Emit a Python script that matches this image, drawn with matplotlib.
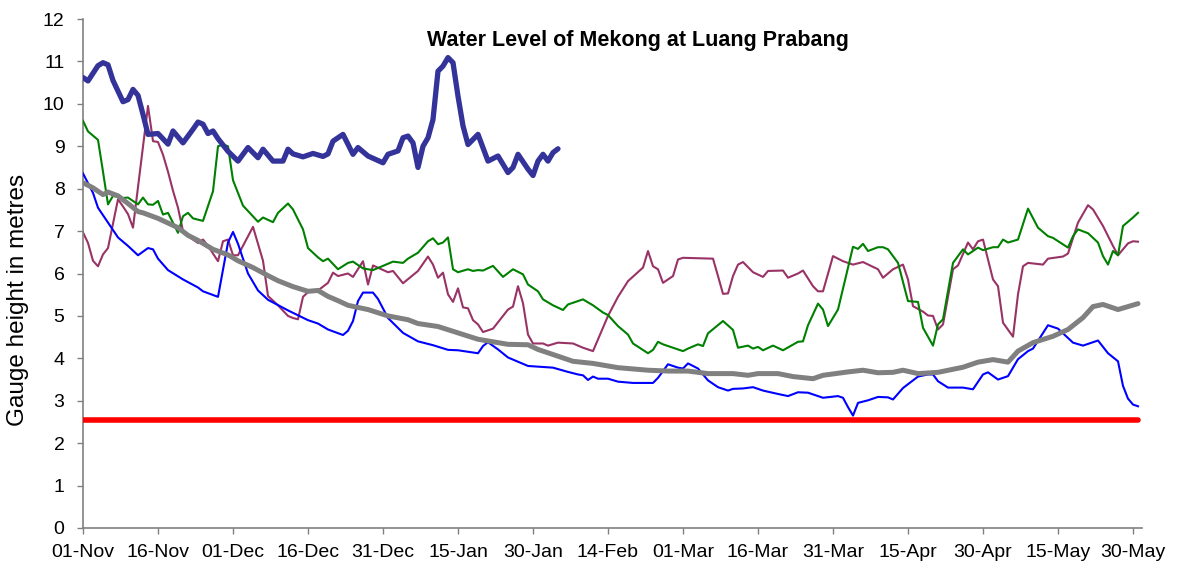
import matplotlib
matplotlib.use("Agg")
import matplotlib.pyplot as plt

plt.rcParams['font.family'] = ['Liberation Sans', 'DejaVu Sans']

# ---- data: days after 01-Nov, gauge height (m) ----
tick_labels = ['01-Nov', '16-Nov', '01-Dec', '16-Dec', '31-Dec', '15-Jan', '30-Jan',
               '14-Feb', '01-Mar', '16-Mar', '31-Mar', '15-Apr', '30-Apr', '15-May', '30-May']
tick_days = [0, 15, 30, 45, 60, 75, 90, 105, 120, 135, 150, 165, 180, 195, 210]

current_days = [0, 1, 3, 4, 5, 6, 8, 9, 10, 11, 12, 13, 15, 17, 18, 20, 22, 23, 24, 25, 26, 27,
                29, 31, 33, 35, 36, 38, 40, 41, 42, 44, 46, 48, 49, 50, 52, 54, 55, 57, 60, 61,
                63, 64, 65, 66, 67, 68, 69, 70, 71, 72, 73, 74, 75, 76, 77, 79, 81, 83, 85, 86,
                87, 89, 90, 91, 92, 93, 94, 95]
current_vals = [10.62, 10.54, 10.90, 10.97, 10.92, 10.55, 10.05, 10.10, 10.34, 10.20, 9.75, 9.28,
                9.30, 9.05, 9.36, 9.08, 9.40, 9.57, 9.52, 9.30, 9.36, 9.18, 8.88, 8.65, 8.97,
                8.73, 8.93, 8.65, 8.65, 8.93, 8.82, 8.75, 8.83, 8.76, 8.82, 9.12, 9.28, 8.81,
                8.97, 8.77, 8.61, 8.81, 8.89, 9.20, 9.24, 9.08, 8.50, 9.00, 9.20, 9.63, 10.77,
                10.89, 11.09, 10.97, 10.18, 9.48, 9.04, 9.28, 8.65, 8.77, 8.38, 8.50, 8.81,
                8.46, 8.31, 8.65, 8.81, 8.65, 8.85, 8.94]

average_days = [0, 2, 4, 5, 7, 9, 11, 12, 15, 17, 19, 21, 23, 26, 29, 31, 34, 37, 39, 42, 45, 47,
                49, 51, 53, 57, 61, 65, 67, 71, 75, 79, 83, 85, 89, 91, 94, 98, 102, 107, 113,
                117, 121, 125, 130, 133, 135, 139, 142, 146, 148, 153, 156, 159, 162, 164, 167,
                171, 176, 179, 182, 185, 187, 190, 194, 197, 200, 202, 204, 207, 211]
average_vals = [8.14, 8.02, 7.86, 7.92, 7.83, 7.65, 7.46, 7.43, 7.30, 7.19, 7.08, 6.90, 6.78,
                6.57, 6.44, 6.30, 6.14, 5.95, 5.83, 5.69, 5.58, 5.60, 5.46, 5.36, 5.25, 5.15,
                5.00, 4.91, 4.82, 4.75, 4.60, 4.45, 4.37, 4.33, 4.32, 4.21, 4.09, 3.93, 3.88,
                3.78, 3.72, 3.70, 3.70, 3.64, 3.64, 3.60, 3.64, 3.64, 3.57, 3.52, 3.60, 3.68,
                3.72, 3.66, 3.67, 3.72, 3.64, 3.67, 3.79, 3.91, 3.97, 3.91, 4.17, 4.37, 4.52,
                4.68, 4.96, 5.22, 5.27, 5.15, 5.29]

blue_days = [0, 2, 3, 5, 7, 9, 11, 13, 14, 15, 17, 20, 23, 24, 27, 29, 30, 31, 33, 35, 37, 41,
             45, 47, 49, 52, 53, 54, 55, 56, 58, 59, 61, 64, 67, 70, 73, 75, 79, 80, 81, 83, 85,
             87, 89, 94, 97, 99, 100, 101, 102, 103, 105, 107, 110, 114, 115, 117, 119, 120,
             121, 123, 125, 127, 129, 130, 132, 134, 136, 139, 141, 143, 145, 148, 151, 152,
             153, 154, 155, 157, 159, 161, 162, 164, 167, 169, 170, 171, 173, 176, 178, 180,
             181, 183, 185, 187, 189, 190, 193, 195, 198, 200, 203, 205, 207, 208, 209, 210, 211]
blue_vals = [8.36, 7.90, 7.55, 7.20, 6.85, 6.65, 6.43, 6.60, 6.57, 6.35, 6.08, 5.86, 5.67, 5.58,
             5.45, 6.73, 6.98, 6.70, 6.00, 5.60, 5.38, 5.13, 4.90, 4.82, 4.68, 4.55, 4.65, 4.88,
             5.35, 5.55, 5.55, 5.40, 4.95, 4.60, 4.40, 4.31, 4.20, 4.19, 4.12, 4.29, 4.38, 4.21,
             4.02, 3.92, 3.82, 3.78, 3.68, 3.62, 3.60, 3.49, 3.57, 3.52, 3.52, 3.45, 3.42, 3.42,
             3.54, 3.86, 3.78, 3.76, 3.88, 3.76, 3.48, 3.32, 3.24, 3.28, 3.29, 3.32, 3.24, 3.16,
             3.11, 3.20, 3.19, 3.07, 3.11, 3.07, 2.85, 2.65, 2.95, 3.01, 3.09, 3.08, 3.03, 3.30,
             3.57, 3.62, 3.62, 3.46, 3.31, 3.31, 3.27, 3.62, 3.67, 3.50, 3.58, 3.98, 4.17, 4.23,
             4.78, 4.70, 4.37, 4.30, 4.42, 4.12, 3.93, 3.35, 3.05, 2.91, 2.87]

green_days = [0, 1, 3, 4, 5, 6, 8, 9, 11, 12, 13, 14, 15, 16, 17, 19, 20, 21, 22, 24, 26, 27, 28,
              29, 30, 32, 35, 36, 38, 39, 41, 42, 44, 45, 47, 48, 49, 51, 53, 54, 56, 58, 62, 64,
              65, 67, 69, 70, 71, 72, 73, 74, 75, 77, 78, 79, 80, 82, 84, 86, 88, 89, 91, 92, 94,
              96, 97, 100, 102, 104, 105, 107, 109, 110, 113, 114, 115, 116, 118, 120, 121, 123,
              124, 125, 128, 130, 131, 133, 134, 135, 136, 138, 140, 143, 144, 145, 147, 148,
              149, 151, 153, 154, 155, 156, 157, 159, 160, 161, 163, 165, 167, 168, 170, 171,
              172, 174, 176, 177, 179, 180, 182, 183, 184, 185, 187, 189, 191, 193, 194, 197,
              198, 199, 201, 203, 204, 205, 206, 207, 208, 210, 211]
green_vals = [9.60, 9.35, 9.15, 8.40, 7.63, 7.83, 7.78, 7.79, 7.63, 7.79, 7.63, 7.62, 7.71, 7.39,
              7.43, 6.96, 7.35, 7.43, 7.30, 7.24, 7.94, 9.00, 9.04, 9.00, 8.20, 7.60, 7.22, 7.32,
              7.21, 7.43, 7.65, 7.51, 7.04, 6.60, 6.38, 6.29, 6.35, 6.10, 6.25, 6.28, 6.12, 6.08,
              6.28, 6.25, 6.35, 6.49, 6.76, 6.83, 6.69, 6.73, 6.85, 6.10, 6.03, 6.10, 6.06, 6.08,
              6.07, 6.18, 5.92, 6.10, 5.98, 5.74, 5.58, 5.39, 5.25, 5.14, 5.27, 5.39, 5.25, 5.08,
              5.02, 4.76, 4.56, 4.35, 4.12, 4.20, 4.39, 4.33, 4.25, 4.17, 4.23, 4.33, 4.29, 4.59,
              4.88, 4.67, 4.25, 4.30, 4.23, 4.27, 4.19, 4.30, 4.19, 4.39, 4.40, 4.78, 5.29, 5.15,
              4.76, 5.15, 6.14, 6.63, 6.58, 6.70, 6.53, 6.62, 6.62, 6.57, 6.25, 5.35, 5.33, 4.72,
              4.30, 4.80, 4.92, 6.25, 6.57, 6.45, 6.61, 6.55, 6.62, 6.62, 6.80, 6.73, 6.80, 7.53,
              7.08, 6.88, 6.84, 6.61, 6.88, 7.04, 6.95, 6.73, 6.41, 6.21, 6.53, 6.43, 7.12, 7.32,
              7.43]

maroon_days = [0, 1, 2, 3, 4, 5, 7, 8, 9, 10, 13, 14, 15, 16, 17, 18, 19, 20, 21, 23, 24, 25, 27,
               28, 29, 30, 31, 34, 35, 36, 37, 39, 41, 42, 43, 44, 45, 47, 49, 50, 51, 53, 54,
               56, 57, 58, 61, 62, 64, 67, 69, 70, 71, 72, 73, 74, 75, 76, 77, 78, 79, 80, 82,
               84, 85, 86, 87, 88, 89, 90, 92, 93, 95, 98, 100, 102, 105, 107, 109, 112, 113,
               114, 115, 116, 118, 119, 120, 123, 126, 127, 128, 129, 130, 131, 132, 134, 136,
               137, 140, 141, 143, 144, 146, 147, 148, 150, 152, 154, 156, 159, 160, 162, 164,
               165, 166, 168, 169, 170, 171, 172, 174, 175, 177, 178, 179, 180, 182, 183, 184,
               186, 187, 188, 189, 192, 193, 196, 197, 199, 201, 202, 204, 206, 207, 209, 210, 211]
maroon_vals = [6.97, 6.72, 6.30, 6.17, 6.45, 6.60, 7.75, 7.58, 7.40, 7.08, 9.95, 9.12, 9.10,
               8.80, 8.40, 7.95, 7.55, 7.00, 6.88, 6.72, 6.80, 6.65, 6.29, 6.76, 6.80, 6.43,
               6.43, 7.10, 6.70, 6.30, 5.47, 5.25, 5.00, 4.95, 4.92, 5.45, 5.56, 5.60, 5.78,
               6.02, 5.94, 6.00, 5.92, 6.29, 5.74, 6.19, 6.03, 6.06, 5.77, 6.06, 6.40, 6.21,
               5.90, 6.02, 5.51, 5.33, 5.65, 5.20, 5.18, 4.90, 4.80, 4.62, 4.70, 5.00, 5.15,
               5.22, 5.70, 5.30, 4.56, 4.35, 4.35, 4.30, 4.37, 4.35, 4.25, 4.17, 5.00, 5.45,
               5.82, 6.14, 6.53, 6.17, 6.10, 5.78, 5.94, 6.33, 6.37, 6.36, 6.35, 5.94, 5.52,
               5.53, 5.94, 6.21, 6.27, 6.03, 5.92, 6.06, 6.07, 5.90, 6.00, 6.07, 5.70, 5.58,
               5.58, 6.41, 6.29, 6.21, 6.27, 6.10, 5.90, 6.10, 6.21, 5.86, 5.23, 5.10, 5.01,
               5.00, 4.68, 4.80, 6.10, 6.19, 6.73, 6.57, 6.76, 6.80, 5.86, 5.70, 4.84, 4.51,
               5.51, 6.17, 6.25, 6.21, 6.35, 6.40, 6.47, 7.20, 7.61, 7.51, 7.12, 6.65, 6.43,
               6.71, 6.76, 6.75]

alarm_days = [0, 211]
alarm_vals = [2.55, 2.55]

# ---- figure ----
W, H = 1182, 566
fig = plt.figure(figsize=(W / 100, H / 100), dpi=100)
ax = fig.add_axes([83 / W, 38 / H, (1142 - 83) / W, (528 - 19) / H])

ax.plot(maroon_days, maroon_vals, color='#993366', lw=1.5, zorder=2)
ax.plot(green_days, green_vals, color='#008000', lw=1.5, zorder=3)
ax.plot(blue_days, blue_vals, color='#0000FF', lw=1.5, zorder=4)
ax.plot(average_days, average_vals, color='#808080', lw=3.6, zorder=5, solid_capstyle='round')
ax.plot(current_days, current_vals, color='#333399', lw=3.8, zorder=6,
        solid_capstyle='round', solid_joinstyle='round')
ax.plot(alarm_days, alarm_vals, color='#FF0000', lw=4.0, zorder=7, solid_capstyle='round')

ax.set_xlim(0, 211.8)
ax.set_ylim(0, 12)
ax.set_yticks(range(0, 13))
ax.set_xticks(tick_days)
ax.set_xticklabels(tick_labels)

for s in ['top', 'right']:
    ax.spines[s].set_visible(False)
for s in ['left', 'bottom']:
    ax.spines[s].set_color('#808080')
    ax.spines[s].set_linewidth(1.2)
ax.tick_params(axis='both', direction='out', length=4.3, width=1, color='#808080',
               labelsize=14, labelcolor='black')
ax.tick_params(axis='y', pad=9)
ax.tick_params(axis='x', pad=7.5)

fig.text(18 / W, 1 - 300 / H, 'Gauge height in metres', rotation=90,
         ha='center', va='center', fontsize=17.5)
fig.text(638 / W, 1 - 46 / H, 'Water Level of Mekong at Luang Prabang',
         ha='center', va='baseline', fontsize=15.5, fontweight='bold')

fig.savefig('out.png', dpi=100)
